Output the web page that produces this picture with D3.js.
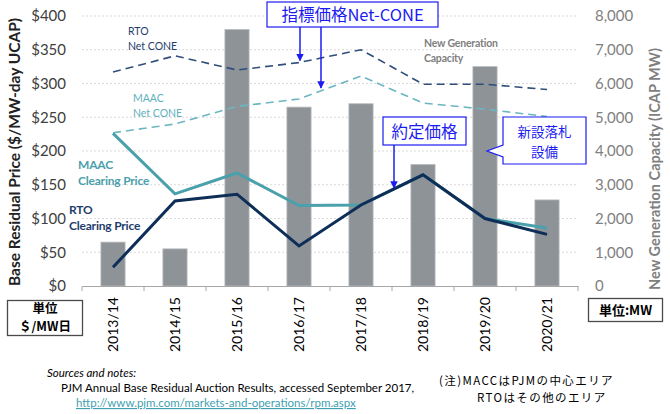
<!DOCTYPE html>
<html><head><meta charset="utf-8">
<script src="https://cdn.jsdelivr.net/npm/d3@7"></script>
<style>
html,body{margin:0;padding:0;background:#fff;}
#wrap{position:relative;width:670px;height:414px;}
svg{display:block;position:absolute;left:0;top:0;}
.ubox{position:absolute;box-sizing:border-box;border:1.5px solid #4a4a4a;background:transparent;}
</style></head>
<body>
<div id="wrap">
<svg id="chart" width="670" height="414"></svg>
</div>
<script>
// ---- data ----
const years = ["2013/14","2014/15","2015/16","2016/17","2017/18","2018/19","2019/20","2020/21"];
const newGenMW = [1300, 1100, 7600, 5300, 5400, 3600, 6500, 2550];
const rtoClearing = [27.73, 125.99, 136.00, 59.37, 120.00, 164.77, 100.00, 76.53];
const maacClearing = [226.15, 136.50, 167.46, 119.13, 120.00, 164.77, 100.00, 86.04];
const rtoNetCone = [317, 341, 320, 331, 350, 299, 299, 291];
const maacNetCone = [227, 240, 266, 277, 311, 271, 262, 251];
const priceTicks = [0, 50, 100, 150, 200, 250, 300, 350, 400];
const mwTicks = [0, 1000, 2000, 3000, 4000, 5000, 6000, 7000, 8000];

const svg = d3.select("#chart");
const L = 82, R = 578, T = 16, B = 286;
const FONT = "Lato, 'Open Sans', sans-serif";
const JP = "'Noto Sans CJK JP', sans-serif";

const x = d3.scaleBand().domain(years).range([L, R]).padding(0);
const yL = d3.scaleLinear().domain([0, 400]).range([B, T]);
const yR = d3.scaleLinear().domain([0, 8000]).range([B, T]);
const cx = d => x(d) + x.bandwidth() / 2;

// unit boxes: svg frame + html border overlay
const boxes = [[7, 300, 83, 336], [588, 298, 663, 322]];
boxes.forEach(([x0, y0, x1, y1]) => {
  svg.append("rect").attr("x", x0 + 0.5).attr("y", y0 + 0.5).attr("width", x1 - x0 - 1).attr("height", y1 - y0 - 1)
    .attr("fill", "none").attr("stroke", "#4a4a4a").attr("stroke-width", 1.3);
  d3.select("#wrap").append("div").attr("class", "ubox")
    .style("left", x0 + "px").style("top", y0 + "px")
    .style("width", (x1 - x0) + "px").style("height", (y1 - y0) + "px");
});

// gridlines
svg.append("g").selectAll("line").data(priceTicks.slice(1)).join("line")
  .attr("x1", L).attr("x2", R).attr("y1", d => yL(d)).attr("y2", d => yL(d))
  .attr("stroke", "#d9d9d9").attr("stroke-width", 1).attr("stroke-dasharray", "2,2");

// bars
const bw = x.bandwidth() * 0.39;
svg.append("g").selectAll("rect").data(years).join("rect")
  .attr("x", (d) => cx(d) - bw / 2)
  .attr("width", bw)
  .attr("y", (d, i) => yR(newGenMW[i]))
  .attr("height", (d, i) => B - yR(newGenMW[i]))
  .attr("fill", "#8e9398").attr("stroke", "#b8bbbe").attr("stroke-width", 0.8);

// left axis
const axL = svg.append("g").attr("transform", `translate(${L},0)`)
  .call(d3.axisLeft(yL).tickValues(priceTicks).tickFormat(d => "$" + d).tickSize(0).tickPadding(16));
axL.select(".domain").remove();
axL.selectAll("text").attr("font-family", FONT).attr("font-size", 15).attr("fill", "#404040");

// right axis
const axR = svg.append("g").attr("transform", `translate(${R},0)`)
  .call(d3.axisRight(yR).tickValues(mwTicks).tickFormat(d3.format(",")).tickSize(0).tickPadding(17));
axR.select(".domain").remove();
axR.selectAll("text").attr("font-family", FONT).attr("font-size", 15).attr("fill", "#7f7f7f");

// bottom axis
const axB = svg.append("g").attr("transform", `translate(0,${B})`)
  .call(d3.axisBottom(x).tickSize(0).tickPadding(0));
axB.select(".domain").attr("stroke", "#a6a6a6");
axB.selectAll(".tick line").remove();
axB.selectAll("text")
  .attr("font-family", FONT).attr("font-size", 14).attr("fill", "#000")
  .attr("transform", "rotate(-90)").attr("text-anchor", "end")
  .attr("dy", "0.35em").attr("x", -11).attr("y", 0);
// boundary ticks
const bounds = years.map(d => x(d)).concat([R]);
svg.append("g").selectAll("line").data(bounds).join("line")
  .attr("x1", d => d).attr("x2", d => d).attr("y1", B).attr("y2", B + 5)
  .attr("stroke", "#a6a6a6");

// lines
const lineGen = arr => d3.line().x((d, i) => cx(years[i])).y(d => yL(d))(arr);
svg.append("path").attr("d", lineGen(rtoNetCone)).attr("fill", "none")
  .attr("stroke", "#2f4f7a").attr("stroke-width", 1.6).attr("stroke-dasharray", "8,5");
svg.append("path").attr("d", lineGen(maacNetCone)).attr("fill", "none")
  .attr("stroke", "#6cb6c1").attr("stroke-width", 1.6).attr("stroke-dasharray", "8,5");
svg.append("path").attr("d", lineGen(maacClearing)).attr("fill", "none")
  .attr("stroke", "#4aa0ab").attr("stroke-width", 3).attr("stroke-linejoin", "miter");
svg.append("path").attr("d", lineGen(rtoClearing)).attr("fill", "none")
  .attr("stroke", "#0e2d57").attr("stroke-width", 3).attr("stroke-linejoin", "miter");

// series labels
function label(lines, xx, yy, color, bold, size, ls) {
  const t = svg.append("text").attr("font-family", FONT).attr("font-size", size)
    .attr("font-weight", bold ? "bold" : "normal").attr("fill", color)
    .attr("letter-spacing", ls || 0);
  lines.forEach((s, i) => t.append("tspan").attr("x", xx).attr("y", yy + i * (size + 4)).text(s));
}
label(["RTO", "Net CONE"], 128, 35, "#1f3d6b", false, 10.5);
label(["MAAC", "Net CONE"], 133, 102, "#5fb0bc", false, 10.5);
label(["MAAC", "Clearing Price"], 78, 169, "#4aa0ab", true, 12, -0.2);
label(["RTO", "Clearing Price"], 69, 214, "#1f3d6b", true, 12, -0.2);
label(["New Generation", "Capacity"], 424, 47, "#808080", true, 10.5, -0.2);

// axis titles
svg.append("text").attr("transform", `translate(20,${(T + B) / 2 + 1}) rotate(-90)`)
  .attr("text-anchor", "middle").attr("font-family", FONT).attr("font-weight", "bold")
  .attr("font-size", 15.5).attr("fill", "#222").text("Base Residual Price ($/MW-day UCAP)");
svg.append("text").attr("transform", `translate(660,${(T + B) / 2 + 18}) rotate(-90)`)
  .attr("text-anchor", "middle").attr("font-family", FONT).attr("font-weight", "bold")
  .attr("font-size", 14.5).attr("fill", "#7f7f7f").text("New Generation Capacity (ICAP MW)");

// annotations (blue)
const BLUE = "#1c1cf0";
const defs = svg.append("defs");
defs.append("marker").attr("id", "ah").attr("viewBox", "0 0 10 10").attr("refX", 9).attr("refY", 5)
  .attr("markerWidth", 5).attr("markerHeight", 5).attr("orient", "auto")
  .append("path").attr("d", "M0,0 L10,5 L0,10 z").attr("fill", BLUE);

svg.append("rect").attr("x", 267).attr("y", 2).attr("width", 171).attr("height", 25)
  .attr("fill", "#fff").attr("stroke", BLUE).attr("stroke-width", 1.2);
svg.append("text").attr("x", 352.5).attr("y", 21).attr("text-anchor", "middle")
  .attr("font-family", JP).attr("font-size", 16.5).attr("fill", BLUE).text("指標価格Net-CONE");
const a1x = cx("2016/17") + 1;
svg.append("line").attr("x1", a1x).attr("x2", a1x).attr("y1", 27).attr("y2", yL(331) - 2)
  .attr("stroke", BLUE).attr("stroke-width", 1.5).attr("marker-end", "url(#ah)");
const a2x = cx("2016/17") + 22;
svg.append("line").attr("x1", a2x).attr("x2", a2x).attr("y1", 27).attr("y2", 88)
  .attr("stroke", BLUE).attr("stroke-width", 1.5).attr("marker-end", "url(#ah)");

svg.append("rect").attr("x", 383).attr("y", 117).attr("width", 83).attr("height", 28)
  .attr("fill", "#fff").attr("stroke", BLUE).attr("stroke-width", 1.2);
svg.append("text").attr("x", 424.5).attr("y", 137.5).attr("text-anchor", "middle")
  .attr("font-family", JP).attr("font-size", 16.5).attr("fill", BLUE).text("約定価格");
svg.append("line").attr("x1", 394).attr("x2", 394).attr("y1", 145).attr("y2", 188)
  .attr("stroke", BLUE).attr("stroke-width", 1.5).attr("marker-end", "url(#ah)");

svg.append("path")
  .attr("d", "M503,117 L586,117 L586,164 L503,164 L503,157 L487,151 L503,145 Z")
  .attr("fill", "#fff").attr("stroke", BLUE).attr("stroke-width", 1.2);
const tNew = svg.append("text").attr("text-anchor", "middle")
  .attr("font-family", JP).attr("font-size", 13.5).attr("fill", BLUE);
tNew.append("tspan").attr("x", 544.5).attr("y", 137).text("新設落札");
tNew.append("tspan").attr("x", 544.5).attr("y", 157).text("設備");

// unit box texts
const tU = svg.append("text").attr("text-anchor", "middle")
  .attr("font-family", JP).attr("font-weight", "bold").attr("font-size", 12.5).attr("fill", "#000");
tU.append("tspan").attr("x", 45).attr("y", 313).text("単位");
tU.append("tspan").attr("x", 45).attr("y", 331).text("＄/MW日");
svg.append("text").attr("x", 625.5).attr("y", 315).attr("text-anchor", "middle")
  .attr("font-family", JP).attr("font-weight", "bold").attr("font-size", 13).attr("fill", "#000").text("単位:MW");

// notes
svg.append("text").attr("x", 47).attr("y", 377).attr("font-family", FONT).attr("font-style", "italic")
  .attr("font-size", 11.5).attr("fill", "#000").text("Sources and notes:");
svg.append("text").attr("x", 61).attr("y", 392).attr("font-family", FONT)
  .attr("font-size", 11.5).attr("fill", "#000").text("PJM Annual Base Residual Auction Results, accessed September 2017,");
svg.append("text").attr("x", 76).attr("y", 407).attr("font-family", FONT)
  .attr("font-size", 11.5).attr("fill", "#3f9fb0").attr("text-decoration", "underline")
  .text("http://www.pjm.com/markets-and-operations/rpm.aspx");
const tN = svg.append("text").attr("font-family", JP)
  .attr("font-size", 11.5).attr("letter-spacing", 1.4).attr("fill", "#000");
tN.append("tspan").attr("x", 439).attr("y", 384.5).text("(注)MACCはPJMの中心エリア");
tN.append("tspan").attr("x", 477).attr("y", 401.5).text("RTOはその他のエリア");
</script>
</body></html>
